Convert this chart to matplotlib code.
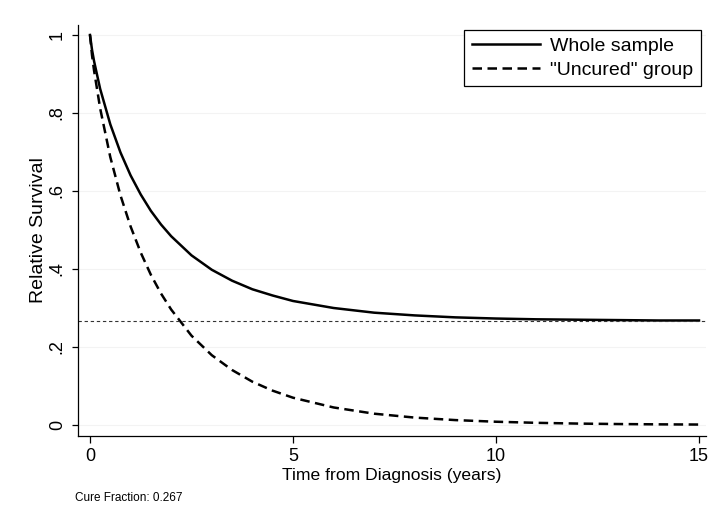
import matplotlib
matplotlib.use("Agg")
import matplotlib.pyplot as plt
import matplotlib as mpl

mpl.rcParams.update({
    "font.family": ["Liberation Sans", "DejaVu Sans"],
    "font.size": 13,
})

# ── Data ──────────────────────────────────────────────────────────────────
CURE_FRACTION = 0.267

time_years = [0, 0.05, 0.1, 0.25, 0.5, 0.75, 1.0, 1.25, 1.5, 1.75, 2.0, 2.5,
              3.0, 3.5, 4.0, 4.5, 5, 6, 7, 8, 9, 10, 11, 12, 13, 14, 15]

whole_sample = [1.000, 0.962, 0.933, 0.862, 0.771, 0.699, 0.640, 0.591, 0.549,
                0.514, 0.484, 0.435, 0.398, 0.370, 0.348, 0.332, 0.318, 0.300,
                0.288, 0.281, 0.276, 0.273, 0.271, 0.270, 0.269, 0.268, 0.268]

uncured_group = [1.000, 0.948, 0.909, 0.812, 0.687, 0.589, 0.509, 0.442, 0.385,
                 0.337, 0.296, 0.229, 0.179, 0.141, 0.111, 0.088, 0.070, 0.045,
                 0.029, 0.019, 0.0126, 0.0084, 0.0056, 0.0037, 0.0025, 0.0017,
                 0.0012]

x_ticks = [0, 5, 10, 15]
y_ticks = [0, 0.2, 0.4, 0.6, 0.8, 1.0]
y_tick_labels = ["0", ".2", ".4", ".6", ".8", "1"]

# ── Figure ────────────────────────────────────────────────────────────────
fig = plt.figure(figsize=(7.16, 5.09), dpi=100)
ax = fig.add_axes([0.1089, 0.1434, 0.877, 0.8075])

for y in y_ticks:
    ax.axhline(y, color="#f3f3f3", lw=0.8, zorder=0)

ax.plot(time_years, whole_sample, color="black", lw=1.8, label="Whole sample")
ax.plot(time_years, uncured_group, color="black", lw=1.8,
        linestyle=(0, (3.8, 2.2)), label='"Uncured" group')
ax.axhline(CURE_FRACTION, color="#333333", lw=0.8, linestyle=(0, (3, 2.5)))

ax.set_xlim(-0.296, 15.17)
ax.set_ylim(-0.0282, 1.0256)

ax.set_xticks(x_ticks)
ax.set_yticks(y_ticks)
ax.set_yticklabels(y_tick_labels, rotation=90, va="center")
ax.tick_params(axis="x", direction="out", length=5, width=0.9, pad=3.5,
               labelsize=13)
ax.tick_params(axis="y", direction="out", length=4.3, width=0.9, pad=4.5,
               labelsize=13)

for side in ("top", "right"):
    ax.spines[side].set_visible(False)
for side in ("left", "bottom"):
    ax.spines[side].set_linewidth(0.9)

ax.set_xlabel("Time from Diagnosis (years)", fontsize=12.6, labelpad=2)
ax.set_ylabel("Relative Survival", fontsize=14, labelpad=1)

leg = ax.legend(loc="upper right", bbox_to_anchor=(0.992, 0.988),
                borderaxespad=0, fancybox=False, framealpha=1,
                edgecolor="black", handlelength=3.5, handletextpad=0.55,
                borderpad=0.38, labelspacing=0.32, fontsize=14)
leg.get_frame().set_linewidth(0.9)

fig.text(75 / 716, 1 - 498 / 509, f"Cure Fraction: {CURE_FRACTION}",
         fontsize=8.5, va="center", ha="left")

fig.savefig("out.png", dpi=100)
